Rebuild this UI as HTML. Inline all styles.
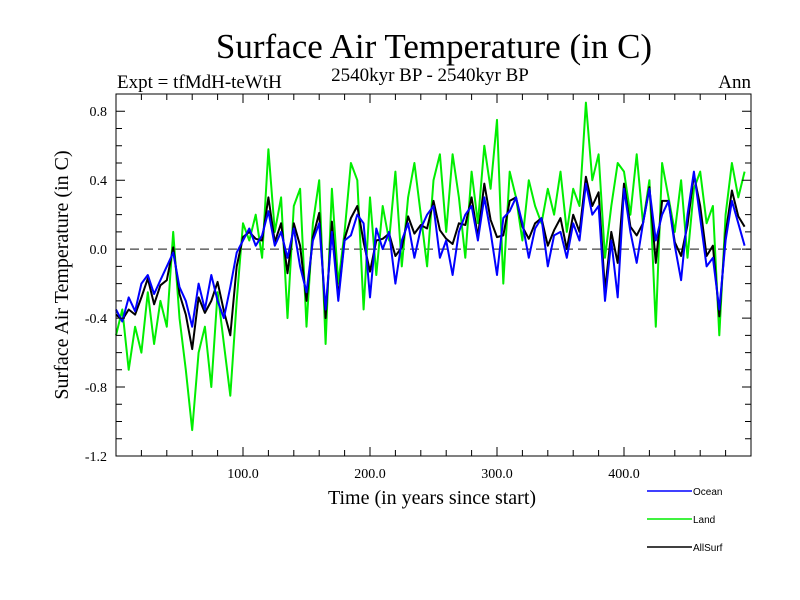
<!DOCTYPE html>
<html><head><meta charset="utf-8"><style>
body{margin:0;background:#fff}
svg{display:block;font-family:"Liberation Serif",serif}
</style></head><body>
<svg id="chart" width="800" height="600">
<text x="434" y="58" text-anchor="middle" font-size="35">Surface Air Temperature (in C)</text>
<text x="117" y="88" font-size="19">Expt = tfMdH-teWtH</text>
<text x="430" y="81" text-anchor="middle" font-size="19">2540kyr BP - 2540kyr BP</text>
<text x="751" y="88" text-anchor="end" font-size="19">Ann</text>
<text transform="translate(68,275) rotate(-90)" text-anchor="middle" font-size="20">Surface Air Temperature (in C)</text>
<text x="432" y="504" text-anchor="middle" font-size="20">Time (in years since start)</text>
<g id="marks"></g>
<g id="axes"></g>
<g id="legend" font-family="Liberation Sans, sans-serif" font-size="10"></g>
</svg>
<script>
const years=[];for(let i=0;i<100;i++)years.push(i*5);
const ocean=[-0.35,-0.42,-0.28,-0.36,-0.20,-0.15,-0.26,-0.18,-0.10,-0.02,
-0.22,-0.30,-0.45,-0.20,-0.35,-0.15,-0.30,-0.40,-0.22,-0.02,
0.05,0.12,0.02,0.08,0.22,0.02,0.10,-0.05,0.12,-0.10,
-0.25,0.05,0.15,-0.35,0.10,-0.30,0.05,0.08,0.20,0.15,
-0.28,0.12,0.0,0.10,-0.20,0.05,0.15,-0.05,0.12,0.20,
0.25,-0.05,0.05,-0.15,0.10,0.20,0.25,0.05,0.30,0.10,
-0.15,0.18,0.22,0.30,0.15,-0.05,0.12,0.18,-0.10,0.08,
0.10,-0.05,0.15,0.05,0.38,0.20,0.25,-0.30,0.05,-0.28,
0.35,0.10,-0.08,0.15,0.35,0.05,0.20,0.28,0.02,-0.18,
0.20,0.45,0.18,-0.10,-0.05,-0.35,0.05,0.28,0.15,0.02];
const land=[-0.50,-0.35,-0.70,-0.45,-0.60,-0.25,-0.55,-0.30,-0.45,0.10,
-0.40,-0.70,-1.05,-0.60,-0.45,-0.80,-0.25,-0.55,-0.85,-0.30,
0.15,0.05,0.20,-0.05,0.58,0.10,0.30,-0.40,0.25,0.35,
-0.45,0.15,0.40,-0.55,0.35,-0.20,0.10,0.50,0.40,-0.35,
0.30,-0.15,0.25,0.05,0.45,-0.10,0.30,0.50,0.20,-0.10,
0.40,0.55,0.10,0.55,0.30,-0.05,0.45,0.15,0.60,0.35,
0.75,-0.20,0.45,0.30,0.05,0.40,0.25,0.15,0.35,0.20,
0.45,0.10,0.35,0.25,0.85,0.40,0.55,-0.05,0.25,0.50,
0.45,0.20,0.55,0.15,0.40,-0.45,0.50,0.30,0.10,0.40,
-0.05,0.35,0.45,0.15,0.25,-0.50,0.20,0.50,0.30,0.45];
const allSurf=[-0.38,-0.41,-0.35,-0.38,-0.28,-0.17,-0.32,-0.21,-0.18,0.01,
-0.26,-0.38,-0.58,-0.28,-0.37,-0.30,-0.19,-0.36,-0.50,-0.10,
0.07,0.10,0.06,0.05,0.30,0.04,0.15,-0.14,0.15,0.02,
-0.30,0.07,0.21,-0.40,0.16,-0.28,0.06,0.18,0.25,0.04,
-0.13,0.05,0.06,0.09,-0.04,0.01,0.19,0.09,0.14,0.12,
0.28,0.11,0.06,0.03,0.15,0.14,0.30,0.07,0.38,0.17,
0.07,0.08,0.28,0.30,0.13,0.06,0.15,0.18,0.02,0.11,
0.18,0.0,0.20,0.10,0.42,0.25,0.33,-0.24,0.10,-0.08,
0.38,0.13,0.08,0.15,0.36,-0.08,0.28,0.28,0.04,-0.04,
0.14,0.43,0.25,-0.04,0.02,-0.39,0.09,0.34,0.19,0.13];
const yTicks=[0.8,0.4,0.0,-0.4,-0.8,-1.2];
const yTickLabels=["0.8","0.4","0.0","-0.4","-0.8","-1.2"];
const xTicks=[100,200,300,400];
const xTickLabels=["100.0","200.0","300.0","400.0"];
const seriesNames=["Ocean","Land","AllSurf"];
const seriesColors=["#0000ff","#00ee00","#000000"];

const L=116,R=751,T=94,B=456,X0=0,X1=500,Y0=-1.2,Y1=0.9;
const NS="http://www.w3.org/2000/svg";
const xs=v=>L+(v-X0)/(X1-X0)*(R-L);
const ys=v=>B-(v-Y0)/(Y1-Y0)*(B-T);
function mk(t,a,p){const e=document.createElementNS(NS,t);for(const k in a)e.setAttribute(k,a[k]);p.appendChild(e);return e;}
const marks=document.getElementById('marks'),axes=document.getElementById('axes'),leg=document.getElementById('legend');

const zl=mk('line',{x1:L,x2:R,y1:ys(0),y2:ys(0),stroke:'#444','stroke-width':1.2,'stroke-dasharray':'9,5'},marks);



function drawLine(vals,color,name){
  const d=vals.map((v,i)=>(i?'L':'M')+xs(years[i]).toFixed(1)+','+ys(v).toFixed(1)).join('');
  const p=mk('path',{d:d,fill:'none',stroke:color,'stroke-width':2,'stroke-linejoin':'round'},marks);
  
  
}
drawLine(land,seriesColors[1],'land-line');
drawLine(allSurf,seriesColors[2],'allsurf-line');
drawLine(ocean,seriesColors[0],'ocean-line');

const fr=mk('rect',{x:L,y:T,width:R-L,height:B-T,fill:'none',stroke:'#000','stroke-width':1},axes);


let tk='';
for(let v=20;v<500;v+=20){const x=xs(v),len=(v%100===0)?9:6;tk+=`M${x},${B}v${-len}M${x},${T}v${len}`;}
for(let k=-11;k<=8;k++){const v=k/10,y=ys(v),len=(k%4===0)?9:6;tk+=`M${L},${y}h${len}M${R},${y}h${-len}`;}
const tp=mk('path',{d:tk,stroke:'#000','stroke-width':1},axes);


yTicks.forEach((v,i)=>{const t=mk('text',{x:107,y:ys(v)+5,'text-anchor':'end','font-size':14},axes);t.textContent=yTickLabels[i];

});
xTicks.forEach((v,i)=>{const t=mk('text',{x:xs(v),y:478,'text-anchor':'middle','font-size':14},axes);t.textContent=xTickLabels[i];

});

[491,519,547].forEach((y,i)=>{
  const g=mk('g',{},leg);
  
  
  mk('line',{x1:647,x2:692,y1:y,y2:y,stroke:seriesColors[i],'stroke-width':1.5},g);
  const t=mk('text',{x:693,y:y+4},g);t.textContent=seriesNames[i];
});
</script>
</body></html>
